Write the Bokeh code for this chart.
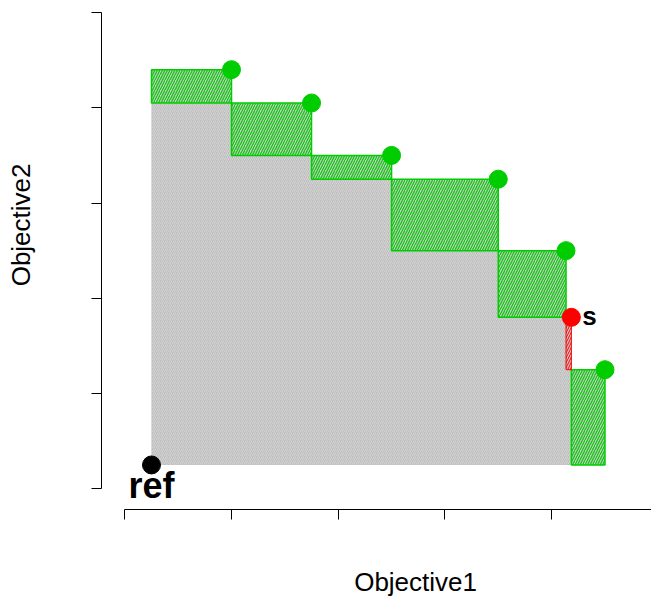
import math
from bokeh.plotting import figure
from bokeh.models import Range1d, FixedTicker
from bokeh.embed import file_html
from bokeh.resources import INLINE
from bokeh.core.properties import value

# Pareto front points (green), the special point s (red) and reference point
front_x = [1.0, 1.75, 2.5, 3.5, 4.135, 4.5]
front_y = [4.4, 4.05, 3.5, 3.25, 2.5, 1.25]
s_x = 4.185
s_y = 1.8
ref_x = 0.25
ref_y = 0.25
x_ticks = [0, 1, 2, 3, 4, 5]
y_ticks = [0, 1, 2, 3, 4, 5]
x_label = "Objective1"
y_label = "Objective2"

GREEN = "#00cd00"
RED = "#ff0000"
FONT = "Liberation Sans"

# all non-dominated points sorted by objective1
all_pts = sorted(list(zip(front_x, front_y)) + [(s_x, s_y)])
ax = [p_[0] for p_ in all_pts]
ay = [p_[1] for p_ in all_pts]

# dominated region (staircase)
poly_x = [ref_x, ref_x]
poly_y = [ref_y, ay[0]]
for i in range(len(ax)):
    poly_x.append(ax[i]); poly_y.append(ay[i])
    nxt = ay[i + 1] if i + 1 < len(ay) else ref_y
    poly_x.append(ax[i]); poly_y.append(nxt)

# exclusive contributions
g_l, g_r, g_t, g_b = [], [], [], []
r_l, r_r, r_t, r_b = [], [], [], []
for i in range(len(ax)):
    left = ax[i - 1] if i > 0 else ref_x
    bottom = ay[i + 1] if i + 1 < len(ay) else ref_y
    if (ax[i], ay[i]) == (s_x, s_y):
        r_l.append(left); r_r.append(ax[i]); r_t.append(ay[i]); r_b.append(bottom)
    else:
        g_l.append(left); g_r.append(ax[i]); g_t.append(ay[i]); g_b.append(bottom)

p = figure(width=651, height=596, output_backend="svg", toolbar_location=None,
           x_range=Range1d(-1.165, 4.936), y_range=Range1d(-1.131, 5.126),
           min_border=0, min_border_left=0, min_border_right=0,
           min_border_top=0, min_border_bottom=0)
p.outline_line_color = None
p.xgrid.visible = False
p.ygrid.visible = False
p.background_fill_color = "white"
p.border_fill_color = "white"

p.xaxis.fixed_location = -0.222
p.yaxis.fixed_location = -0.218
for axis, ticks in ((p.xaxis, x_ticks), (p.yaxis, y_ticks)):
    axis.ticker = FixedTicker(ticks=ticks)
    axis.bounds = (ticks[0], ticks[-1])
    axis.major_tick_out = 10
    axis.major_tick_in = 0
    axis.minor_tick_line_color = None
    axis.major_label_overrides = {t: "" for t in ticks}
    axis.major_label_standoff = 0
    axis.axis_line_color = "black"
    axis.major_tick_line_color = "black"

p.patch(poly_x, poly_y, fill_color="#bebebe", line_alpha=0,
        hatch_pattern="/", hatch_color="#d4d4d4", hatch_scale=4, hatch_weight=1)

p.quad(left=g_l, right=g_r, top=g_t, bottom=g_b, fill_alpha=0,
       line_color=GREEN, line_width=1.5, hatch_pattern="/", hatch_color=GREEN,
       hatch_scale=5, hatch_weight=1.2)
p.quad(left=r_l, right=r_r, top=r_t, bottom=r_b, fill_alpha=0,
       line_color=RED, line_width=1, hatch_pattern="/", hatch_color=RED,
       hatch_scale=5, hatch_weight=1)

p.scatter(front_x, front_y, size=18, color=GREEN)
p.scatter([s_x], [s_y], size=18, color=RED)
p.scatter([ref_x], [ref_y], size=18, color="black")

p.text([ref_x], [ref_y], text=["ref"], text_align="center", text_baseline="alphabetic",
       y_offset=21, text_font=value(FONT), text_font_size="36px",
       text_font_style="bold", text_color="black")
p.text([s_x], [s_y], text=["s"], text_align="left", text_baseline="alphabetic",
       x_offset=11, y_offset=-1, text_font=value(FONT), text_font_size="26px",
       text_font_style="bold", text_color="black")

p.text([2.725], [-0.984], text=[x_label], text_align="center",
       text_baseline="middle", text_font=value(FONT), text_font_size="26px",
       text_color="black")
p.text([-0.97], [2.77], text=[y_label], text_align="center",
       text_baseline="middle", angle=math.pi / 2, text_font=value(FONT),
       text_font_size="26px", text_color="black")

open("out.html", "w").write(file_html(p, INLINE))
